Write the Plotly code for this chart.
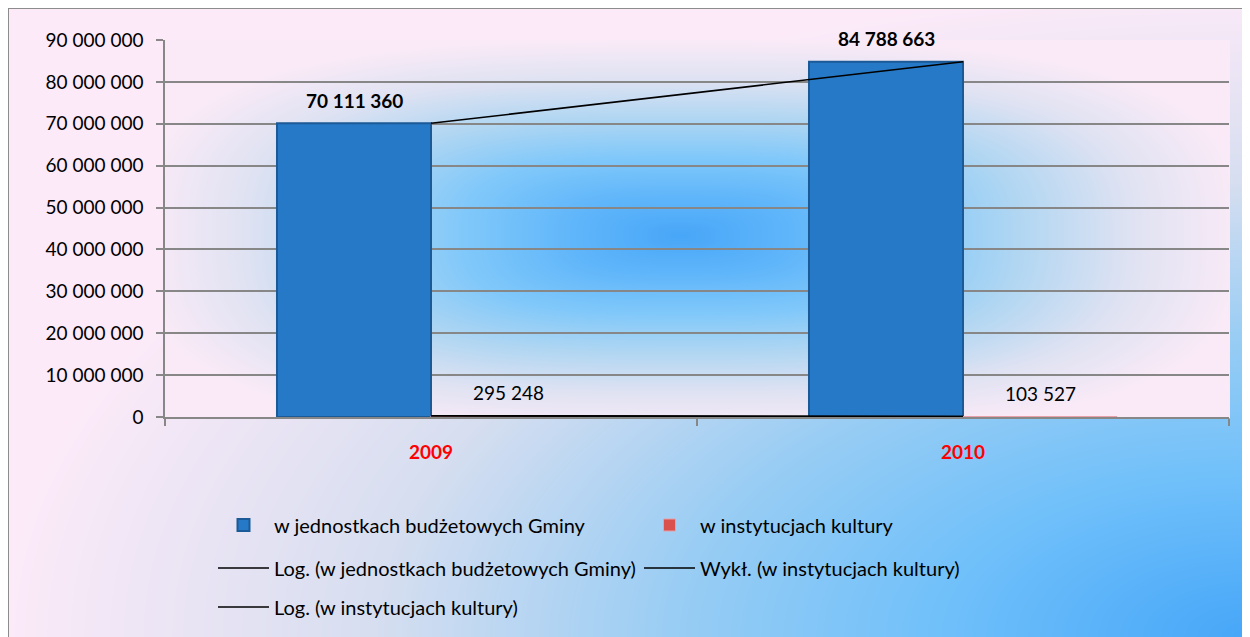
import base64
import struct
import zlib

import numpy as np
import plotly.graph_objects as go

# ---------------- data ----------------
years = ["2009", "2010"]
budget_units = [70111360, 84788663]          # w jednostkach budżetowych Gminy
culture_inst = [295248, 103527]              # w instytucjach kultury
bar_names = ["w jednostkach budżetowych Gminy", "w instytucjach kultury"]
trend_names = [
    "Log. (w jednostkach budżetowych Gminy)",
    "Wykł. (w instytucjach kultury)",
    "Log. (w instytucjach kultury)",
]
y_tick_values = [0, 10000000, 20000000, 30000000, 40000000,
                 50000000, 60000000, 70000000, 80000000, 90000000]

# ---------------- trend lines (fitted on x = 1, 2) ----------------
xs = np.arange(1, len(years) + 1, dtype=float)
b1, a1 = np.polyfit(np.log(xs), budget_units, 1)
log_budget = a1 + b1 * np.log(xs)
b2, a2 = np.polyfit(xs, np.log(culture_inst), 1)
exp_culture = np.exp(a2 + b2 * xs)
b3, a3 = np.polyfit(np.log(xs), culture_inst, 1)
log_culture = a3 + b3 * np.log(xs)

# ---------------- geometry (screen coords; page body offsets by 8px) ----------------
W, H = 1250, 637
OFF = 8
SL, ST, SR, SB = 165, 40, 1229, 417       # plot area on screen
PW, PH = SR - SL, SB - ST
ML, MT = SL - OFF, ST - OFF
MR, MB = W - (SR - OFF), H - (SB - OFF)
FONT = "Lato"


def px_x(p):
    return (p - SL) / PW


def px_y(p):
    return (SB - p) / PH


# ---------------- background gradient image (screen coords) ----------------
BX0, BY0, BX1, BY1 = 8, 8, W + OFF, H + OFF
Y, X = np.mgrid[BY0:BY1, BX0:BX1].astype(float)

# outer (chart area) gradient: pink top-left -> blue bottom-right
d_out = np.sqrt(((X - 1250) / 1250.0) ** 2 + ((Y - 637) / 650.0) ** 2)
t_out = np.clip(1 - d_out, 0, 1)
o_stops = [0.0, 0.3, 0.55, 0.75, 1.0]
o_cols = [(252, 234, 248), (214, 222, 240), (150, 204, 244), (112, 192, 250), (70, 166, 248)]

# inner (plot area) gradient: blue glow in the middle
cx, cy = 680.0, 235.0
ax = np.where(X < cx, 540.0, 560.0)
p = 3.0
d_in = (np.abs((X - cx) / ax) ** p + np.abs((Y - cy) / 195.0) ** p) ** (1 / p)
t_in = np.clip(1 - d_in, 0, 1)
i_stops = [0.0, 0.2, 0.4, 0.6, 0.8, 1.0]
i_cols = [(250, 234, 247), (222, 226, 242), (176, 214, 242), (128, 200, 250), (96, 182, 250), (72, 166, 248)]

img = np.zeros(X.shape + (3,))
for c in range(3):
    img[..., c] = np.interp(t_out, o_stops, [col[c] for col in o_cols])
inside = (X >= SL) & (X <= SR) & (Y >= ST) & (Y <= SB)
for c in range(3):
    inner = np.interp(t_in, i_stops, [col[c] for col in i_cols])
    img[..., c] = np.where(inside, inner, img[..., c])
img = np.clip(np.round(img), 0, 255).astype(np.int16)


def to_png_uri(arr):
    h, w, _ = arr.shape
    flat = arr.reshape(h, w * 3)
    prev = np.vstack([np.zeros((1, w * 3), dtype=np.int16), flat[:-1]])
    diff = ((flat - prev) % 256).astype(np.uint8)
    raw = np.hstack([np.full((h, 1), 2, dtype=np.uint8), diff])
    comp = zlib.compress(raw.tobytes(), 9)

    def chunk(tag, data):
        return (struct.pack(">I", len(data)) + tag + data
                + struct.pack(">I", zlib.crc32(tag + data) & 0xFFFFFFFF))

    png = (b"\x89PNG\r\n\x1a\n"
           + chunk(b"IHDR", struct.pack(">IIBBBBB", w, h, 8, 2, 0, 0, 0))
           + chunk(b"IDAT", comp) + chunk(b"IEND", b""))
    return "data:image/png;base64," + base64.b64encode(png).decode()


bg_uri = to_png_uri(img)

# ---------------- figure ----------------
fig = go.Figure()

fig.add_trace(go.Bar(
    x=years, y=budget_units, name=bar_names[0], legend="legend",
    marker=dict(color="#2679C6", line=dict(color="#1B5A96", width=2)),
))
fig.add_trace(go.Bar(
    x=years, y=culture_inst, name=bar_names[1], legend="legend",
    marker=dict(color="#D9504C", line=dict(color="#E8A0A8", width=1)),
))
line_style = dict(color="black", width=1.6)
fig.add_trace(go.Scatter(x=years, y=log_budget, mode="lines", name=trend_names[0],
                         line=line_style, legend="legend2"))
fig.add_trace(go.Scatter(x=years, y=exp_culture, mode="lines", name=trend_names[1],
                         line=line_style, legend="legend2"))
fig.add_trace(go.Scatter(x=years, y=log_culture, mode="lines", name=trend_names[2],
                         line=line_style, legend="legend3"))

# value labels (x given as category index)
for i, v in enumerate(budget_units):
    fig.add_annotation(x=i, y=v, xref="x", yref="y", text=f"{v:,}".replace(",", " "),
                       showarrow=False, xshift=-77, yshift=23, yanchor="middle",
                       font=dict(family=FONT, size=19, color="black", weight="bold"))
for i, v in enumerate(culture_inst):
    fig.add_annotation(x=i, y=v, xref="x", yref="y", text=f"{v:,}".replace(",", " "),
                       showarrow=False, xshift=77, yshift=23, yanchor="middle",
                       font=dict(family=FONT, size=19, color="black"))

grid = "#878787"
leg_common = dict(orientation="h", xanchor="left", yanchor="middle",
                  itemwidth=51, entrywidth=360, bgcolor="rgba(0,0,0,0)",
                  font=dict(family=FONT, size=20, color="black"), traceorder="normal")
fig.update_layout(
    width=W, height=H, autosize=False,
    margin=dict(l=ML, r=MR, t=MT, b=MB, pad=0),
    paper_bgcolor="white", plot_bgcolor="rgba(0,0,0,0)",
    separators=", ",
    font=dict(family=FONT, size=19, color="black"),
    barmode="group", bargap=0.421, bargroupgap=0,
    xaxis=dict(
        type="category", range=[-0.5, len(years) - 0.5], autorange=False,
        showgrid=False, showline=True, linecolor=grid, linewidth=1.5,
        ticks="outside", tickson="boundaries", ticklen=7, tickcolor=grid, tickwidth=1.5,
        tickangle=0,
        tickfont=dict(family=FONT, size=19, color="#FF0000", weight="bold"),
        ticklabelstandoff=17,
    ),
    yaxis=dict(
        range=[0, 90000000], autorange=False, tickvals=y_tick_values, tickformat=",d",
        showgrid=True, gridcolor=grid, gridwidth=1.5, zeroline=False,
        showline=True, linecolor=grid, linewidth=1.5,
        ticks="outside", ticklen=7, tickcolor=grid, tickwidth=1.5,
        tickfont=dict(family=FONT, size=19, color="black"),
        ticklabelstandoff=9,
    ),
    legend=dict(x=px_x(213), y=px_y(525), **leg_common),
    legend2=dict(x=px_x(213), y=px_y(568), **leg_common),
    legend3=dict(x=px_x(213), y=px_y(607), **leg_common),
    images=[dict(
        source=bg_uri, xref="paper", yref="paper",
        x=px_x(BX0), y=px_y(BY0), sizex=(BX1 - BX0) / PW, sizey=(BY1 - BY0) / PH,
        xanchor="left", yanchor="top", sizing="stretch", layer="below",
    )],
    shapes=[dict(
        type="rect", xref="paper", yref="paper",
        x0=px_x(8), x1=px_x(W + 20), y0=px_y(H + 20), y1=px_y(8),
        line=dict(color="#8C8C8C", width=2), fillcolor="rgba(0,0,0,0)", layer="above",
    )],
)

fig.write_html("out.html")
